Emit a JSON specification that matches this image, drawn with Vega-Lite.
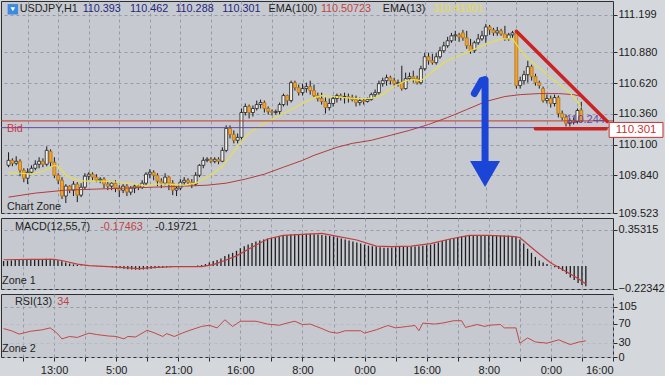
{
  "$schema": "https://vega.github.io/schema/vega-lite/v6.json",
  "background": "#d4d7db",
  "padding": 0,
  "bounds": "flush",
  "spacing": 5,
  "resolve": {"scale": {"x": "independent", "y": "independent"}, "axis": {"x": "independent", "y": "independent"}},
  "config": {
    "view": {"fill": "#c6cad0", "stroke": "#2e2e2e", "strokeWidth": 1},
    "font": "Liberation Sans",
    "axis": {"labelFont": "Liberation Sans", "labelFontSize": 11, "labelColor": "#1c1c1c", "tickColor": "#2a2a2a", "domainColor": "#2a2a2a", "gridColor": "#939ca8", "gridDash": [3, 3], "gridWidth": 1, "labelOverlap": false, "tickCount": 100},
    "text": {"font": "Liberation Sans", "fontSize": 11}
  },
  "datasets": {
    "candles": [
      {"i":3,"o":109.926,"h":110.036,"l":109.910,"c":109.968},
      {"i":4,"o":109.968,"h":109.985,"l":109.918,"c":109.943},
      {"i":5,"o":109.943,"h":110.002,"l":109.926,"c":109.960},
      {"i":6,"o":109.960,"h":109.977,"l":109.834,"c":109.884},
      {"i":7,"o":109.884,"h":109.901,"l":109.783,"c":109.817},
      {"i":8,"o":109.817,"h":109.901,"l":109.767,"c":109.867},
      {"i":9,"o":109.867,"h":109.926,"l":109.859,"c":109.901},
      {"i":10,"o":109.901,"h":109.968,"l":109.884,"c":109.935},
      {"i":11,"o":109.935,"h":109.994,"l":109.901,"c":109.960},
      {"i":12,"o":109.960,"h":109.985,"l":109.910,"c":109.935},
      {"i":13,"o":109.935,"h":110.086,"l":109.918,"c":110.052},
      {"i":14,"o":110.044,"h":110.061,"l":109.918,"c":109.952},
      {"i":15,"o":109.952,"h":109.994,"l":109.817,"c":109.842},
      {"i":16,"o":109.842,"h":109.859,"l":109.767,"c":109.800},
      {"i":17,"o":109.800,"h":109.826,"l":109.641,"c":109.666},
      {"i":18,"o":109.666,"h":109.767,"l":109.607,"c":109.750},
      {"i":19,"o":109.750,"h":109.758,"l":109.691,"c":109.716},
      {"i":20,"o":109.716,"h":109.792,"l":109.666,"c":109.767},
      {"i":21,"o":109.767,"h":109.783,"l":109.615,"c":109.674},
      {"i":22,"o":109.674,"h":109.775,"l":109.657,"c":109.741},
      {"i":23,"o":109.741,"h":109.859,"l":109.725,"c":109.834},
      {"i":24,"o":109.834,"h":109.867,"l":109.800,"c":109.851},
      {"i":25,"o":109.851,"h":109.867,"l":109.800,"c":109.826},
      {"i":26,"o":109.826,"h":109.851,"l":109.783,"c":109.800},
      {"i":27,"o":109.800,"h":109.826,"l":109.775,"c":109.809},
      {"i":28,"o":109.809,"h":109.826,"l":109.733,"c":109.767},
      {"i":29,"o":109.767,"h":109.792,"l":109.716,"c":109.750},
      {"i":30,"o":109.750,"h":109.783,"l":109.716,"c":109.775},
      {"i":31,"o":109.775,"h":109.800,"l":109.699,"c":109.733},
      {"i":32,"o":109.733,"h":109.758,"l":109.657,"c":109.716},
      {"i":33,"o":109.716,"h":109.767,"l":109.691,"c":109.750},
      {"i":34,"o":109.750,"h":109.767,"l":109.666,"c":109.699},
      {"i":35,"o":109.699,"h":109.750,"l":109.674,"c":109.733},
      {"i":36,"o":109.733,"h":109.767,"l":109.691,"c":109.750},
      {"i":37,"o":109.750,"h":109.767,"l":109.716,"c":109.741},
      {"i":38,"o":109.741,"h":109.800,"l":109.725,"c":109.775},
      {"i":39,"o":109.775,"h":109.867,"l":109.758,"c":109.851},
      {"i":40,"o":109.851,"h":109.893,"l":109.817,"c":109.867},
      {"i":41,"o":109.867,"h":109.884,"l":109.800,"c":109.842},
      {"i":42,"o":109.842,"h":109.859,"l":109.750,"c":109.792},
      {"i":43,"o":109.792,"h":109.817,"l":109.733,"c":109.775},
      {"i":44,"o":109.775,"h":109.859,"l":109.758,"c":109.826},
      {"i":45,"o":109.826,"h":109.834,"l":109.716,"c":109.775},
      {"i":46,"o":109.775,"h":109.800,"l":109.674,"c":109.716},
      {"i":47,"o":109.716,"h":109.750,"l":109.666,"c":109.733},
      {"i":48,"o":109.733,"h":109.809,"l":109.716,"c":109.783},
      {"i":49,"o":109.783,"h":109.826,"l":109.758,"c":109.800},
      {"i":50,"o":109.800,"h":109.817,"l":109.767,"c":109.783},
      {"i":51,"o":109.783,"h":109.809,"l":109.733,"c":109.767},
      {"i":52,"o":109.767,"h":109.867,"l":109.750,"c":109.842},
      {"i":53,"o":109.842,"h":109.935,"l":109.826,"c":109.926},
      {"i":54,"o":109.926,"h":109.994,"l":109.901,"c":109.968},
      {"i":55,"o":109.968,"h":109.994,"l":109.952,"c":109.977},
      {"i":56,"o":109.977,"h":109.994,"l":109.943,"c":109.960},
      {"i":57,"o":109.960,"h":109.994,"l":109.943,"c":109.977},
      {"i":58,"o":109.977,"h":109.994,"l":109.935,"c":109.960},
      {"i":59,"o":109.960,"h":110.078,"l":109.952,"c":110.052},
      {"i":60,"o":110.052,"h":110.263,"l":110.036,"c":110.238},
      {"i":61,"o":110.238,"h":110.263,"l":110.153,"c":110.187},
      {"i":62,"o":110.187,"h":110.221,"l":110.111,"c":110.137},
      {"i":63,"o":110.137,"h":110.195,"l":110.111,"c":110.162},
      {"i":64,"o":110.162,"h":110.406,"l":110.145,"c":110.372},
      {"i":65,"o":110.372,"h":110.448,"l":110.347,"c":110.423},
      {"i":66,"o":110.423,"h":110.439,"l":110.322,"c":110.372},
      {"i":67,"o":110.372,"h":110.431,"l":110.338,"c":110.406},
      {"i":68,"o":110.406,"h":110.473,"l":110.389,"c":110.439},
      {"i":69,"o":110.439,"h":110.481,"l":110.406,"c":110.456},
      {"i":70,"o":110.456,"h":110.473,"l":110.372,"c":110.406},
      {"i":71,"o":110.406,"h":110.423,"l":110.355,"c":110.381},
      {"i":72,"o":110.381,"h":110.397,"l":110.347,"c":110.372},
      {"i":73,"o":110.372,"h":110.397,"l":110.355,"c":110.381},
      {"i":74,"o":110.381,"h":110.456,"l":110.355,"c":110.439},
      {"i":75,"o":110.439,"h":110.532,"l":110.423,"c":110.515},
      {"i":76,"o":110.515,"h":110.523,"l":110.431,"c":110.473},
      {"i":77,"o":110.473,"h":110.641,"l":110.456,"c":110.624},
      {"i":78,"o":110.624,"h":110.641,"l":110.557,"c":110.582},
      {"i":79,"o":110.582,"h":110.608,"l":110.515,"c":110.540},
      {"i":80,"o":110.540,"h":110.616,"l":110.515,"c":110.574},
      {"i":81,"o":110.574,"h":110.624,"l":110.540,"c":110.591},
      {"i":82,"o":110.591,"h":110.641,"l":110.523,"c":110.557},
      {"i":83,"o":110.557,"h":110.608,"l":110.498,"c":110.515},
      {"i":84,"o":110.515,"h":110.540,"l":110.465,"c":110.490},
      {"i":85,"o":110.490,"h":110.540,"l":110.439,"c":110.465},
      {"i":86,"o":110.465,"h":110.498,"l":110.364,"c":110.414},
      {"i":87,"o":110.414,"h":110.490,"l":110.389,"c":110.448},
      {"i":88,"o":110.448,"h":110.515,"l":110.423,"c":110.490},
      {"i":89,"o":110.490,"h":110.532,"l":110.456,"c":110.515},
      {"i":90,"o":110.515,"h":110.532,"l":110.473,"c":110.498},
      {"i":91,"o":110.498,"h":110.540,"l":110.448,"c":110.507},
      {"i":92,"o":110.507,"h":110.532,"l":110.456,"c":110.498},
      {"i":93,"o":110.498,"h":110.523,"l":110.465,"c":110.481},
      {"i":94,"o":110.481,"h":110.515,"l":110.423,"c":110.456},
      {"i":95,"o":110.456,"h":110.498,"l":110.431,"c":110.473},
      {"i":96,"o":110.473,"h":110.490,"l":110.439,"c":110.465},
      {"i":97,"o":110.465,"h":110.498,"l":110.456,"c":110.481},
      {"i":98,"o":110.481,"h":110.540,"l":110.473,"c":110.523},
      {"i":99,"o":110.523,"h":110.566,"l":110.498,"c":110.540},
      {"i":100,"o":110.540,"h":110.641,"l":110.523,"c":110.616},
      {"i":101,"o":110.616,"h":110.666,"l":110.591,"c":110.641},
      {"i":102,"o":110.641,"h":110.692,"l":110.599,"c":110.666},
      {"i":103,"o":110.666,"h":110.683,"l":110.608,"c":110.641},
      {"i":104,"o":110.641,"h":110.666,"l":110.599,"c":110.616},
      {"i":105,"o":110.616,"h":110.650,"l":110.591,"c":110.624},
      {"i":106,"o":110.624,"h":110.767,"l":110.557,"c":110.574},
      {"i":107,"o":110.574,"h":110.709,"l":110.566,"c":110.658},
      {"i":108,"o":110.658,"h":110.709,"l":110.641,"c":110.675},
      {"i":109,"o":110.675,"h":110.725,"l":110.624,"c":110.658},
      {"i":110,"o":110.658,"h":110.683,"l":110.608,"c":110.624},
      {"i":111,"o":110.624,"h":110.767,"l":110.608,"c":110.742},
      {"i":112,"o":110.742,"h":110.877,"l":110.725,"c":110.843},
      {"i":113,"o":110.843,"h":110.877,"l":110.776,"c":110.809},
      {"i":114,"o":110.809,"h":110.868,"l":110.776,"c":110.793},
      {"i":115,"o":110.793,"h":110.877,"l":110.776,"c":110.843},
      {"i":116,"o":110.843,"h":110.927,"l":110.826,"c":110.894},
      {"i":117,"o":110.894,"h":110.969,"l":110.877,"c":110.936},
      {"i":118,"o":110.936,"h":111.011,"l":110.919,"c":110.978},
      {"i":119,"o":110.978,"h":111.045,"l":110.961,"c":111.020},
      {"i":120,"o":111.020,"h":111.062,"l":110.978,"c":111.028},
      {"i":121,"o":111.028,"h":111.045,"l":110.969,"c":111.011},
      {"i":122,"o":111.045,"h":111.070,"l":110.978,"c":111.003},
      {"i":123,"o":111.003,"h":111.062,"l":110.910,"c":110.936},
      {"i":124,"o":110.936,"h":110.994,"l":110.868,"c":110.894},
      {"i":125,"o":110.894,"h":110.978,"l":110.877,"c":110.961},
      {"i":126,"o":110.961,"h":111.036,"l":110.944,"c":110.994},
      {"i":127,"o":110.994,"h":111.062,"l":110.978,"c":111.020},
      {"i":128,"o":111.020,"h":111.121,"l":110.961,"c":111.095},
      {"i":129,"o":111.095,"h":111.112,"l":111.028,"c":111.070},
      {"i":130,"o":111.070,"h":111.087,"l":111.020,"c":111.045},
      {"i":131,"o":111.045,"h":111.095,"l":111.020,"c":111.062},
      {"i":132,"o":111.062,"h":111.079,"l":111.020,"c":111.036},
      {"i":133,"o":111.036,"h":111.104,"l":110.978,"c":110.994},
      {"i":134,"o":110.994,"h":111.045,"l":110.978,"c":111.028},
      {"i":135,"o":111.028,"h":111.062,"l":111.003,"c":111.045},
      {"i":136,"o":111.045,"h":111.070,"l":110.574,"c":110.599},
      {"i":137,"o":110.599,"h":110.675,"l":110.574,"c":110.641},
      {"i":138,"o":110.641,"h":110.725,"l":110.608,"c":110.692},
      {"i":139,"o":110.692,"h":110.809,"l":110.624,"c":110.759},
      {"i":140,"o":110.759,"h":110.776,"l":110.641,"c":110.675},
      {"i":141,"o":110.675,"h":110.700,"l":110.599,"c":110.624},
      {"i":142,"o":110.624,"h":110.641,"l":110.574,"c":110.599},
      {"i":143,"o":110.574,"h":110.591,"l":110.456,"c":110.473},
      {"i":144,"o":110.473,"h":110.523,"l":110.448,"c":110.490},
      {"i":145,"o":110.490,"h":110.515,"l":110.414,"c":110.448},
      {"i":146,"o":110.448,"h":110.523,"l":110.423,"c":110.498},
      {"i":147,"o":110.498,"h":110.515,"l":110.330,"c":110.364},
      {"i":148,"o":110.364,"h":110.389,"l":110.305,"c":110.330},
      {"i":149,"o":110.330,"h":110.355,"l":110.254,"c":110.280},
      {"i":150,"o":110.280,"h":110.322,"l":110.254,"c":110.305},
      {"i":151,"o":110.305,"h":110.330,"l":110.271,"c":110.296},
      {"i":152,"o":110.296,"h":110.406,"l":110.280,"c":110.389},
      {"i":153,"o":110.393,"h":110.462,"l":110.288,"c":110.301}
    ],
    "ema13": [
      {"i":3,"v":109.867},{"i":6,"v":109.859},{"i":9,"v":109.851},{"i":12,"v":109.876},{"i":14,"v":109.910},{"i":15,"v":109.926},{"i":16,"v":109.918},{"i":17,"v":109.884},{"i":18,"v":109.842},{"i":20,"v":109.809},{"i":23,"v":109.792},{"i":28,"v":109.792},{"i":32,"v":109.783},{"i":36,"v":109.767},{"i":39,"v":109.750},{"i":41,"v":109.767},{"i":45,"v":109.767},{"i":49,"v":109.758},{"i":52,"v":109.775},{"i":55,"v":109.826},{"i":57,"v":109.867},{"i":59,"v":109.918},{"i":61,"v":110.002},{"i":63,"v":110.086},{"i":65,"v":110.162},{"i":67,"v":110.221},{"i":69,"v":110.263},{"i":71,"v":110.296},{"i":73,"v":110.330},{"i":75,"v":110.364},{"i":77,"v":110.397},{"i":79,"v":110.431},{"i":81,"v":110.465},{"i":83,"v":110.498},{"i":85,"v":110.515},{"i":88,"v":110.507},{"i":91,"v":110.498},{"i":94,"v":110.490},{"i":97,"v":110.490},{"i":99,"v":110.498},{"i":101,"v":110.523},{"i":103,"v":110.574},{"i":105,"v":110.608},{"i":107,"v":110.641},{"i":109,"v":110.650},{"i":111,"v":110.641},{"i":113,"v":110.692},{"i":115,"v":110.742},{"i":117,"v":110.793},{"i":119,"v":110.826},{"i":121,"v":110.851},{"i":124,"v":110.893},{"i":127,"v":110.936},{"i":129,"v":110.961},{"i":132,"v":110.994},{"i":135,"v":110.994},{"i":136,"v":110.950},{"i":137,"v":110.900},{"i":138,"v":110.862},{"i":140,"v":110.800},{"i":142,"v":110.751},{"i":144,"v":110.692},{"i":146,"v":110.641},{"i":148,"v":110.591},{"i":150,"v":110.540},{"i":152,"v":110.465},{"i":153,"v":110.413}
    ],
    "ema100": [
      {"i":3,"v":109.657},{"i":10,"v":109.691},{"i":18,"v":109.716},{"i":26,"v":109.725},{"i":33,"v":109.733},{"i":41,"v":109.741},{"i":49,"v":109.750},{"i":55,"v":109.758},{"i":60,"v":109.775},{"i":65,"v":109.809},{"i":70,"v":109.851},{"i":75,"v":109.910},{"i":80,"v":109.968},{"i":83,"v":110.010},{"i":89,"v":110.078},{"i":93,"v":110.111},{"i":98,"v":110.137},{"i":103,"v":110.179},{"i":108,"v":110.221},{"i":113,"v":110.271},{"i":118,"v":110.330},{"i":123,"v":110.397},{"i":128,"v":110.465},{"i":133,"v":110.507},{"i":137,"v":110.523},{"i":142,"v":110.532},{"i":147,"v":110.532},{"i":151,"v":110.523},{"i":153,"v":110.507}
    ],
    "trend": [
      {"g":"a","i":136,"p":111.058},{"g":"a","i":159.8,"p":110.296},
      {"g":"b","i":141,"p":110.235},{"g":"b","i":159.5,"p":110.235}
    ],
    "arrow": [
      {"n":1,"i":125.0,"p":110.532},{"n":2,"i":126.9,"p":110.641},{"n":3,"i":127.8,"p":110.650},{"n":4,"i":127.8,"p":109.901}
    ],
    "mainlabels": [
      {"i":5.94,"p":111.246,"t":"USDJPY,H1","k":"label"},
      {"i":22.4,"p":111.246,"t":"110.393","k":"price"},
      {"i":34.8,"p":111.246,"t":"110.462","k":"price"},
      {"i":46.7,"p":111.246,"t":"110.288","k":"price"},
      {"i":59.0,"p":111.246,"t":"110.301","k":"price"},
      {"i":71.1,"p":111.246,"t":"EMA(100)","k":"label"},
      {"i":84.8,"p":111.246,"t":"110.50723","k":"red"},
      {"i":101.0,"p":111.246,"t":"EMA(13)","k":"label"},
      {"i":114.2,"p":111.246,"t":"110.41301","k":"yellow"},
      {"i":2.6,"p":109.576,"t":"Chart Zone","k":"label"},
      {"i":2.6,"p":110.236,"t":"Bid","k":"bid"}
    ],
    "macd": [
      {"i":3,"m":0.05},{"i":4,"m":0.053},{"i":5,"m":0.056},{"i":6,"m":0.06},{"i":7,"m":0.062},{"i":8,"m":0.064},{"i":9,"m":0.065},{"i":10,"m":0.066},{"i":11,"m":0.067},{"i":12,"m":0.068},{"i":13,"m":0.07},{"i":14,"m":0.072},{"i":15,"m":0.073},{"i":16,"m":0.068},{"i":17,"m":0.058},{"i":18,"m":0.047},{"i":19,"m":0.036},{"i":20,"m":0.025},{"i":21,"m":0.017},{"i":22,"m":0.011},{"i":23,"m":0.007},{"i":24,"m":0.005},{"i":25,"m":0.003},{"i":26,"m":0.001},{"i":27,"m":-0.002},{"i":28,"m":-0.004},{"i":29,"m":-0.006},{"i":30,"m":-0.008},{"i":31,"m":-0.012},{"i":32,"m":-0.016},{"i":33,"m":-0.02},{"i":34,"m":-0.025},{"i":35,"m":-0.03},{"i":36,"m":-0.033},{"i":37,"m":-0.035},{"i":38,"m":-0.036},{"i":39,"m":-0.034},{"i":40,"m":-0.03},{"i":41,"m":-0.025},{"i":42,"m":-0.02},{"i":43,"m":-0.018},{"i":44,"m":-0.015},{"i":45,"m":-0.012},{"i":46,"m":-0.01},{"i":47,"m":-0.008},{"i":48,"m":-0.006},{"i":49,"m":-0.004},{"i":50,"m":-0.003},{"i":51,"m":-0.002},{"i":52,"m":0.0},{"i":53,"m":0.005},{"i":54,"m":0.01},{"i":55,"m":0.02},{"i":56,"m":0.035},{"i":57,"m":0.05},{"i":58,"m":0.06},{"i":59,"m":0.075},{"i":60,"m":0.1},{"i":61,"m":0.115},{"i":62,"m":0.13},{"i":63,"m":0.15},{"i":64,"m":0.175},{"i":65,"m":0.195},{"i":66,"m":0.21},{"i":67,"m":0.225},{"i":68,"m":0.24},{"i":69,"m":0.25},{"i":70,"m":0.26},{"i":71,"m":0.268},{"i":72,"m":0.275},{"i":73,"m":0.282},{"i":74,"m":0.29},{"i":75,"m":0.298},{"i":76,"m":0.305},{"i":77,"m":0.31},{"i":78,"m":0.312},{"i":79,"m":0.314},{"i":80,"m":0.315},{"i":81,"m":0.316},{"i":82,"m":0.315},{"i":83,"m":0.312},{"i":84,"m":0.31},{"i":85,"m":0.305},{"i":86,"m":0.3},{"i":87,"m":0.295},{"i":88,"m":0.29},{"i":89,"m":0.28},{"i":90,"m":0.27},{"i":91,"m":0.26},{"i":92,"m":0.25},{"i":93,"m":0.24},{"i":94,"m":0.23},{"i":95,"m":0.22},{"i":96,"m":0.21},{"i":97,"m":0.2},{"i":98,"m":0.195},{"i":99,"m":0.19},{"i":100,"m":0.185},{"i":101,"m":0.18},{"i":102,"m":0.18},{"i":103,"m":0.182},{"i":104,"m":0.185},{"i":105,"m":0.188},{"i":106,"m":0.19},{"i":107,"m":0.19},{"i":108,"m":0.19},{"i":109,"m":0.192},{"i":110,"m":0.195},{"i":111,"m":0.2},{"i":112,"m":0.205},{"i":113,"m":0.21},{"i":114,"m":0.22},{"i":115,"m":0.23},{"i":116,"m":0.245},{"i":117,"m":0.255},{"i":118,"m":0.265},{"i":119,"m":0.275},{"i":120,"m":0.285},{"i":121,"m":0.29},{"i":122,"m":0.295},{"i":123,"m":0.3},{"i":124,"m":0.305},{"i":125,"m":0.305},{"i":126,"m":0.305},{"i":127,"m":0.305},{"i":128,"m":0.305},{"i":129,"m":0.303},{"i":130,"m":0.3},{"i":131,"m":0.3},{"i":132,"m":0.3},{"i":133,"m":0.298},{"i":134,"m":0.295},{"i":135,"m":0.29},{"i":136,"m":0.26},{"i":137,"m":0.22},{"i":138,"m":0.17},{"i":139,"m":0.13},{"i":140,"m":0.09},{"i":141,"m":0.055},{"i":142,"m":0.035},{"i":143,"m":0.02},{"i":144,"m":0.005},{"i":145,"m":-0.01},{"i":146,"m":-0.025},{"i":147,"m":-0.045},{"i":148,"m":-0.075},{"i":149,"m":-0.11},{"i":150,"m":-0.135},{"i":151,"m":-0.165},{"i":152,"m":-0.185},{"i":153,"m":-0.197}
    ],
    "signal": [
      {"i":3,"s":0.062},{"i":10,"s":0.065},{"i":16,"s":0.066},{"i":18,"s":0.055},{"i":22,"s":0.02},{"i":25,"s":0.005},{"i":30,"s":-0.005},{"i":38,"s":-0.025},{"i":41,"s":-0.015},{"i":47,"s":-0.005},{"i":54,"s":-0.005},{"i":57,"s":0.015},{"i":60,"s":0.055},{"i":63,"s":0.1},{"i":67,"s":0.185},{"i":71,"s":0.265},{"i":75,"s":0.3},{"i":80,"s":0.31},{"i":85,"s":0.32},{"i":89,"s":0.29},{"i":94,"s":0.255},{"i":99,"s":0.195},{"i":103,"s":0.19},{"i":108,"s":0.195},{"i":113,"s":0.22},{"i":118,"s":0.265},{"i":123,"s":0.3},{"i":128,"s":0.3},{"i":134,"s":0.29},{"i":136,"s":0.28},{"i":140,"s":0.15},{"i":144,"s":0.03},{"i":148,"s":-0.055},{"i":151,"s":-0.12},{"i":153,"s":-0.175}
    ],
    "macdlabels": [
      {"i":5.94,"v":0.382,"t":"MACD(12,55,7)","k":"label"},
      {"i":27.9,"v":0.382,"t":"-0.17463","k":"red"},
      {"i":42.0,"v":0.382,"t":"-0.19721","k":"label"},
      {"i":2.6,"v":-0.145,"t":"Zone 1","k":"label"}
    ],
    "rsi": [
      {"i":3,"r":59.5},{"i":5,"r":55},{"i":7,"r":48},{"i":10,"r":54},{"i":13,"r":57},{"i":15,"r":61},{"i":16,"r":55},{"i":17,"r":48},{"i":18,"r":38},{"i":20,"r":43},{"i":22,"r":41},{"i":25,"r":50},{"i":27,"r":47},{"i":30,"r":44},{"i":32,"r":43},{"i":34,"r":38},{"i":35,"r":43},{"i":37,"r":42},{"i":40,"r":56},{"i":42,"r":50},{"i":44,"r":43},{"i":45,"r":49},{"i":47,"r":43},{"i":49,"r":50},{"i":51,"r":56},{"i":54,"r":64},{"i":56,"r":66.5},{"i":58,"r":61},{"i":60,"r":78},{"i":62,"r":64},{"i":64,"r":75},{"i":68,"r":75},{"i":71,"r":69},{"i":74,"r":66.5},{"i":76,"r":71},{"i":78,"r":75},{"i":80,"r":68},{"i":82,"r":69},{"i":85,"r":59.5},{"i":87,"r":52.5},{"i":89,"r":50},{"i":91,"r":55},{"i":95,"r":55},{"i":96,"r":50},{"i":99,"r":57},{"i":102,"r":66},{"i":104,"r":61},{"i":107,"r":64},{"i":109,"r":66},{"i":110,"r":55},{"i":111,"r":71},{"i":114,"r":69},{"i":116,"r":71},{"i":119,"r":76},{"i":121,"r":76},{"i":122,"r":62},{"i":125,"r":68},{"i":127,"r":64},{"i":128,"r":66.5},{"i":131,"r":68},{"i":132,"r":61},{"i":135,"r":61},{"i":136,"r":29},{"i":138,"r":40},{"i":140,"r":31.5},{"i":143,"r":29},{"i":146,"r":36},{"i":149,"r":26},{"i":151,"r":31},{"i":153,"r":34}
    ],
    "rsilabels": [
      {"i":5.94,"v":115.9,"t":"RSI(13)","k":"label"},
      {"i":16.8,"v":115.9,"t":"34","k":"red"},
      {"i":2.6,"v":17.4,"t":"Zone 2","k":"label"}
    ]
  },
  "vconcat": [
    {
      "width": 612,
      "height": 212,
      "layer": [
        {
          "data": {"name": "candles"},
          "mark": {"type": "rule", "color": "#1a1a1a", "strokeWidth": 1},
          "encoding": {
            "x": {"field": "i", "type": "quantitative", "title": null, "scale": {"domain": [2.33, 160], "nice": false, "zero": false},
                  "axis": {"values": [8,16,24,32,40,48,56,64,72,80,88,96,104,112,120,128,136,144,152], "tickCount": 100, "labels": false, "ticks": false, "domain": false, "grid": true}},
            "y": {"field": "l", "type": "quantitative", "title": null, "scale": {"domain": [109.523, 111.314], "nice": false, "zero": false},
                  "axis": {"orient": "right", "values": [111.199, 110.88, 110.62, 110.36, 110.1, 109.84, 109.523], "tickCount": 100, "format": ".3f", "grid": true, "tickSize": 4, "labelPadding": 1, "domain": false, "labelOverlap": false}},
            "y2": {"field": "h"}
          }
        },
        {
          "data": {"name": "candles"},
          "mark": {"type": "bar", "size": 3, "strokeWidth": 0.8},
          "encoding": {
            "x": {"field": "i", "type": "quantitative", "title": null},
            "y": {"field": "o", "type": "quantitative", "title": null},
            "y2": {"field": "c"},
            "fill": {"condition": {"test": "datum.c >= datum.o", "value": "#eeeeee"}, "value": "#f0a232"},
            "stroke": {"condition": {"test": "datum.c >= datum.o", "value": "#1f1f1f"}, "value": "#b27316"}
          }
        },
        {
          "data": {"name": "ema100"},
          "mark": {"type": "line", "color": "#b23c3c", "strokeWidth": 1},
          "encoding": {"x": {"field": "i", "type": "quantitative", "title": null}, "y": {"field": "v", "type": "quantitative", "title": null}}
        },
        {
          "data": {"name": "ema13"},
          "mark": {"type": "line", "color": "#e8de4a", "strokeWidth": 1.2},
          "encoding": {"x": {"field": "i", "type": "quantitative", "title": null}, "y": {"field": "v", "type": "quantitative", "title": null}}
        },
        {
          "data": {"values": [{}]},
          "mark": {"type": "rule", "color": "#c0392b", "strokeWidth": 1},
          "encoding": {"y": {"datum": 110.301, "type": "quantitative"}}
        },
        {
          "data": {"values": [{}]},
          "mark": {"type": "rule", "color": "#6a44a6", "strokeWidth": 1},
          "encoding": {"y": {"datum": 110.244, "type": "quantitative"}}
        },
        {
          "data": {"values": [{}]},
          "mark": {"type": "text", "align": "right", "baseline": "bottom", "dy": -3, "color": "#6a44a6", "fontSize": 11},
          "encoding": {"x": {"datum": 159.2, "type": "quantitative"}, "y": {"datum": 110.244, "type": "quantitative"}, "text": {"value": "110.244"}}
        },
        {
          "data": {"name": "trend"},
          "mark": {"type": "line", "color": "#cc2222", "strokeWidth": 3.5, "strokeCap": "round"},
          "encoding": {"x": {"field": "i", "type": "quantitative", "title": null}, "y": {"field": "p", "type": "quantitative", "title": null}, "detail": {"field": "g"}}
        },
        {
          "data": {"name": "arrow"},
          "mark": {"type": "line", "color": "#1b45d6", "strokeWidth": 7, "strokeCap": "round", "strokeJoin": "round"},
          "encoding": {"x": {"field": "i", "type": "quantitative", "title": null}, "y": {"field": "p", "type": "quantitative", "title": null}, "order": {"field": "n"}}
        },
        {
          "data": {"values": [{}]},
          "mark": {"type": "point", "shape": "triangle-down", "size": 900, "filled": true, "color": "#1b45d6", "opacity": 1},
          "encoding": {"x": {"datum": 127.8, "type": "quantitative"}, "y": {"datum": 109.853, "type": "quantitative"}}
        },
        {
          "data": {"values": [{}]},
          "mark": {"type": "point", "shape": "square", "size": 110, "filled": true, "color": "#3d8be0", "opacity": 1},
          "encoding": {"x": {"datum": 4.13, "type": "quantitative"}, "y": {"datum": 111.244, "type": "quantitative"}}
        },
        {
          "data": {"values": [{}]},
          "mark": {"type": "point", "shape": "triangle-down", "size": 22, "filled": true, "color": "#ffffff", "opacity": 1},
          "encoding": {"x": {"datum": 4.13, "type": "quantitative"}, "y": {"datum": 111.244, "type": "quantitative"}}
        },
        {
          "data": {"values": [{}]},
          "mark": {"type": "rect", "fill": "#ffffff", "stroke": "#c83232", "strokeWidth": 1, "clip": false},
          "encoding": {"x": {"datum": 160.3, "type": "quantitative"}, "x2": {"datum": 174.4}, "y": {"datum": 110.288, "type": "quantitative"}, "y2": {"datum": 110.162}}
        },
        {
          "data": {"values": [{}]},
          "mark": {"type": "text", "align": "center", "baseline": "middle", "color": "#c83232", "fontSize": 11.5, "clip": false},
          "encoding": {"x": {"datum": 167.35, "type": "quantitative"}, "y": {"datum": 110.225, "type": "quantitative"}, "text": {"value": "110.301"}}
        },
        {
          "data": {"name": "mainlabels"},
          "mark": {"type": "text", "align": "left", "baseline": "middle", "fontSize": 10.8},
          "encoding": {
            "x": {"field": "i", "type": "quantitative", "title": null},
            "y": {"field": "p", "type": "quantitative", "title": null},
            "text": {"field": "t"},
            "color": {"field": "k", "type": "nominal", "legend": null, "scale": {"domain": ["label", "price", "red", "yellow", "bid", "purple"], "range": ["#1e1e1e", "#25257e", "#c04444", "#e4dc48", "#c8364a", "#6a44a6"]}}
          }
        }
      ]
    },
    {
      "width": 612,
      "height": 71,
      "layer": [
        {
          "data": {"name": "macd"},
          "mark": {"type": "rule", "color": "#1e1e1e", "strokeWidth": 1.3},
          "encoding": {
            "x": {"field": "i", "type": "quantitative", "title": null, "scale": {"domain": [2.33, 160], "nice": false, "zero": false},
                  "axis": {"values": [8,16,24,32,40,48,56,64,72,80,88,96,104,112,120,128,136,144,152], "tickCount": 100, "labels": false, "ticks": false, "domain": false, "grid": true}},
            "y": {"field": "m", "type": "quantitative", "title": null, "scale": {"domain": [-0.2235, 0.47], "nice": false, "zero": false},
                  "axis": {"orient": "right", "values": [0.35315, -0.22342], "tickCount": 100, "format": ".5f", "grid": true, "tickSize": 4, "labelPadding": 1, "domain": false, "labelOverlap": false}},
            "y2": {"datum": 0}
          }
        },
        {
          "data": {"name": "signal"},
          "mark": {"type": "line", "color": "#c23c3c", "strokeWidth": 1.2},
          "encoding": {"x": {"field": "i", "type": "quantitative", "title": null}, "y": {"field": "s", "type": "quantitative", "title": null}}
        },
        {
          "data": {"name": "macdlabels"},
          "mark": {"type": "text", "align": "left", "baseline": "middle", "fontSize": 10.8},
          "encoding": {
            "x": {"field": "i", "type": "quantitative", "title": null},
            "y": {"field": "v", "type": "quantitative", "title": null},
            "text": {"field": "t"},
            "color": {"field": "k", "type": "nominal", "legend": null, "scale": {"domain": ["label", "price", "red", "yellow", "bid", "purple"], "range": ["#1e1e1e", "#25257e", "#c04444", "#e4dc48", "#c8364a", "#6a44a6"]}}
          }
        }
      ]
    },
    {
      "width": 612,
      "height": 63,
      "layer": [
        {
          "data": {"name": "rsi"},
          "mark": {"type": "line", "color": "#c24848", "strokeWidth": 1},
          "encoding": {
            "x": {"field": "i", "type": "quantitative", "title": null, "scale": {"domain": [2.33, 160], "nice": false, "zero": false},
                  "axis": {"values": [8,16,24,32,40,48,56,64,72,80,88,96,104,112,120,128,136,144,152,160], "tickCount": 100, "grid": true, "domain": false, "ticks": true, "tickSize": 4, "labelPadding": 3, "labelOverlap": false, "labelFontSize": 11,
                           "labelExpr": "datum.value == 16 ? '13:00' : datum.value == 32 ? '5:00' : datum.value == 48 ? '21:00' : datum.value == 64 ? '16:00' : datum.value == 80 ? '8:00' : datum.value == 96 ? '0:00' : datum.value == 112 ? '16:00' : datum.value == 128 ? '8:00' : datum.value == 144 ? '0:00' : datum.value == 160 ? '16:00' : ''"}},
            "y": {"field": "r", "type": "quantitative", "title": null, "scale": {"domain": [0, 132], "nice": false, "zero": false},
                  "axis": {"orient": "right", "values": [0, 30, 70, 105], "tickCount": 100, "grid": true, "tickSize": 4, "labelPadding": 1, "domain": false, "labelOverlap": false,
                           "gridColor": {"condition": {"test": "datum.value == 105", "value": "#939ca8"}, "value": "#b5bcc4"}}}
          }
        },
        {
          "data": {"name": "rsilabels"},
          "mark": {"type": "text", "align": "left", "baseline": "middle", "fontSize": 10.8},
          "encoding": {
            "x": {"field": "i", "type": "quantitative", "title": null},
            "y": {"field": "v", "type": "quantitative", "title": null},
            "text": {"field": "t"},
            "color": {"field": "k", "type": "nominal", "legend": null, "scale": {"domain": ["label", "price", "red", "yellow", "bid", "purple"], "range": ["#1e1e1e", "#25257e", "#c04444", "#e4dc48", "#c8364a", "#6a44a6"]}}
          }
        }
      ]
    }
  ]
}
